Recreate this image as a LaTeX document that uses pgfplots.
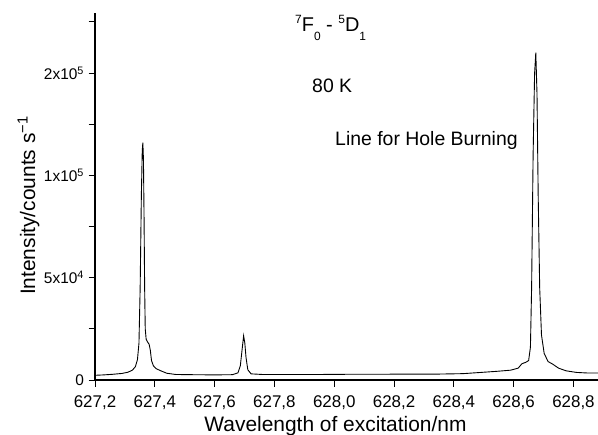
\documentclass[border=0pt]{standalone}
\usepackage{fontspec}
\setmainfont{Liberation Sans}
\usepackage{pgfplots}
\pgfplotsset{compat=1.18}
\newcommand{\lsub}[1]{\raisebox{-0.8ex}{\fontsize{12}{13}\selectfont #1}}
\newcommand{\lsup}[1]{\raisebox{0.8ex}{\fontsize{12}{13}\selectfont #1}}
\begin{document}
\begin{tikzpicture}
\path[use as bounding box] (0bp,0bp) rectangle (598bp,435bp);
\begin{axis}[
  at={(95bp,55bp)}, anchor=south west, scale only axis,
  width=503bp, height=367bp,
  xmin=627.2, xmax=628.882, ymin=0, ymax=179400,
  axis x line=bottom, axis y line=left,
  axis line style={-, line width=1.1pt},
  tick align=outside,
  major tick length=6.5bp, minor tick length=3.5bp,
  every tick/.style={black, line width=1pt},
  xtick={627.2,627.4,...,628.81},
  minor x tick num=1,
  /pgf/number format/assume math mode=true,
  x tick label style={/pgf/number format/use comma, /pgf/number format/fixed, /pgf/number format/fixed zerofill, /pgf/number format/precision=1, font=\fontsize{17}{19}\selectfont, yshift=-6bp},
  ytick={0,25000,50000,75000,100000,125000,150000,175000},
  yticklabels={0,,5x10\textsuperscript{4},,1x10\textsuperscript{5},,2x10\textsuperscript{5},},
  y tick label style={font=\fontsize{15.5}{17}\selectfont, xshift=-1bp},
  scaled y ticks=false,
  clip=false,
]
\addplot[black, line width=0.9pt] coordinates {
(627.200,2300) (627.230,2500) (627.260,2800) (627.290,3200) (627.310,3800)
(627.325,4800) (627.335,6500) (627.342,10000) (627.347,18000) (627.351,45000)
(627.355,90000) (627.358,112000) (627.360,116000) (627.362,108000) (627.364,80000)
(627.366,45000) (627.368,25000) (627.371,20000) (627.376,18500) (627.381,17500)
(627.385,14500) (627.389,9500) (627.395,7000) (627.405,5500) (627.420,4500)
(627.440,3300) (627.470,2700) (627.520,2600) (627.600,2500) (627.660,2600)
(627.678,3500) (627.686,7000) (627.692,15000) (627.697,21600) (627.701,18000)
(627.705,11000) (627.711,5000) (627.722,3000) (627.760,2700) (627.850,2700)
(627.950,2700) (628.050,2800) (628.150,2800) (628.250,2900) (628.350,2900)
(628.430,3100) (628.480,3600) (628.540,4200) (628.590,4800) (628.615,5800)
(628.628,8000) (628.640,8600) (628.650,9500) (628.656,16000) (628.660,45000)
(628.665,110000) (628.670,150000) (628.674,160000) (628.678,140000) (628.682,90000)
(628.687,45000) (628.693,22000) (628.702,13000) (628.715,9000) (628.730,7800)
(628.750,5800) (628.775,4500) (628.810,3700) (628.850,3400) (628.882,3400)
};
\end{axis}
\node[anchor=base] at (335.5bp,4bp) {\fontsize{21}{24}\selectfont Wavelength of excitation/nm};
\node[anchor=base, rotate=90] at (35bp,229.5bp) {\fontsize{21}{24}\selectfont Intensity/counts s\textsuperscript{−1}};
\node[anchor=base west, inner sep=0pt] at (295bp,403bp) {\fontsize{20}{23}\selectfont \lsup{7}F\lsub{0} - \lsup{5}D\lsub{1}};
\node[anchor=base west, inner sep=0pt] at (312bp,342.5bp) {\fontsize{19.5}{22}\selectfont 80 K};
\node[anchor=base west, inner sep=0pt] at (335bp,289.5bp) {\fontsize{19.5}{22}\selectfont Line for Hole Burning};
\end{tikzpicture}
\end{document}
